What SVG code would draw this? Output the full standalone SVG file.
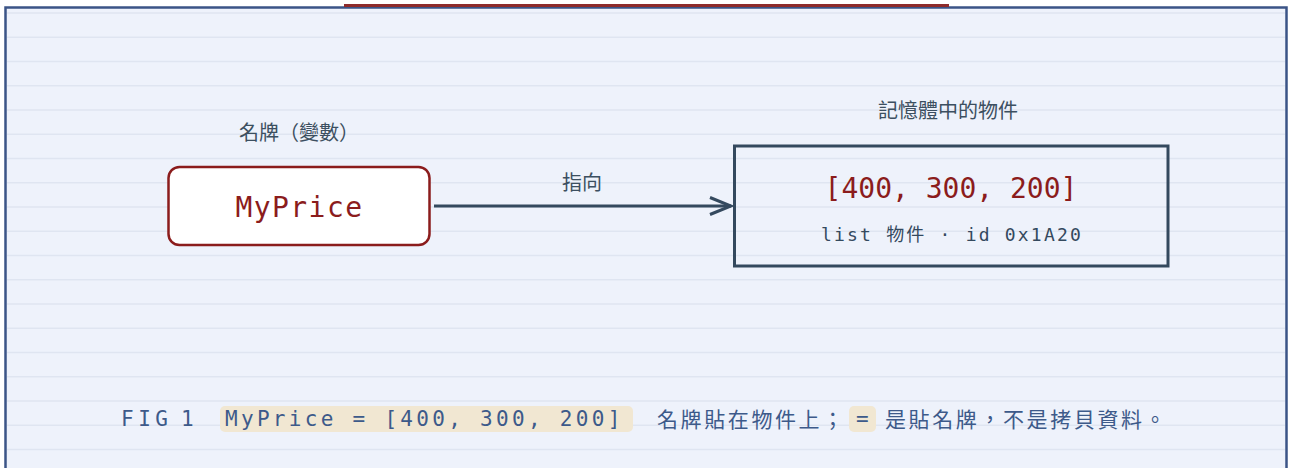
<svg xmlns="http://www.w3.org/2000/svg" width="1290" height="468" viewBox="0 0 1290 468">
<defs>
<style>
.rule{stroke:#dfe5f1;stroke-width:1.5}
.lbl{font-family:"Noto Sans CJK TC","Noto Sans",sans-serif;font-size:20px;fill:#3c4f60;text-anchor:middle}
.mono{font-family:"DejaVu Sans Mono","Liberation Mono","Noto Sans CJK TC",monospace}
.cap{font-family:"DejaVu Sans Mono","Noto Sans CJK TC",monospace;font-size:21px;fill:#3d5a8a}
.cjk{font-family:"Noto Sans CJK TC",sans-serif;font-size:21px;fill:#3d5a8a;letter-spacing:2.6px}
.hl{fill:#f1e7d2}
</style>
<marker id="chev" viewBox="0 0 24 20" refX="22" refY="10" markerWidth="24" markerHeight="20" markerUnits="userSpaceOnUse" orient="auto">
<polyline points="1,1.5 22,10 1,18.5" fill="none" stroke="#34495e" stroke-width="3"/>
</marker>
</defs>
<rect x="0" y="0" width="1290" height="468" fill="#ffffff"/>
<g id="panel">
<rect x="5.5" y="7.5" width="1281" height="470" fill="#eef2fb" stroke="#3b5487" stroke-width="2.5"/>
<g>
<line class="rule" x1="7" x2="1285" y1="13" y2="13"/>
<line class="rule" x1="7" x2="1285" y1="37.25" y2="37.25"/>
<line class="rule" x1="7" x2="1285" y1="61.5" y2="61.5"/>
<line class="rule" x1="7" x2="1285" y1="85.75" y2="85.75"/>
<line class="rule" x1="7" x2="1285" y1="110" y2="110"/>
<line class="rule" x1="7" x2="1285" y1="134.25" y2="134.25"/>
<line class="rule" x1="7" x2="1285" y1="158.5" y2="158.5"/>
<line class="rule" x1="7" x2="1285" y1="182.75" y2="182.75"/>
<line class="rule" x1="7" x2="1285" y1="207" y2="207"/>
<line class="rule" x1="7" x2="1285" y1="231.25" y2="231.25"/>
<line class="rule" x1="7" x2="1285" y1="255.5" y2="255.5"/>
<line class="rule" x1="7" x2="1285" y1="279.75" y2="279.75"/>
<line class="rule" x1="7" x2="1285" y1="304" y2="304"/>
<line class="rule" x1="7" x2="1285" y1="328.25" y2="328.25"/>
<line class="rule" x1="7" x2="1285" y1="352.5" y2="352.5"/>
<line class="rule" x1="7" x2="1285" y1="376.75" y2="376.75"/>
<line class="rule" x1="7" x2="1285" y1="401" y2="401"/>
<line class="rule" x1="7" x2="1285" y1="425.25" y2="425.25"/>
<line class="rule" x1="7" x2="1285" y1="449.5" y2="449.5"/>
</g>
<rect x="344" y="4" width="605" height="3" fill="#8e2b2b"/>
</g>
<g id="connectors">
<line x1="434" y1="206" x2="731" y2="206" stroke="#34495e" stroke-width="3" marker-end="url(#chev)"/>
<text class="lbl" x="582" y="190">指向</text>
</g>
<g id="node-variable">
<text class="lbl" x="299" y="140">名牌（變數）</text>
<rect x="168.5" y="167" width="261" height="78" rx="11" fill="#ffffff" stroke="#8b1c1c" stroke-width="2.5"/>
<text class="mono" x="299.5" y="217" font-size="28" fill="#8b1c1c" text-anchor="middle" letter-spacing="1.4">MyPrice</text>
</g>
<g id="node-object">
<text class="lbl" x="948" y="118">記憶體中的物件</text>
<rect x="734.5" y="146" width="433.5" height="120" fill="none" stroke="#34495e" stroke-width="3"/>
<text class="mono" x="951" y="198" font-size="28" fill="#8b1c1c" text-anchor="middle">[400, 300, 200]</text>
<text class="mono" x="952" y="241" font-size="18" fill="#34495e" text-anchor="middle" letter-spacing="2.2">list 物件 · id 0x1A20</text>
</g>
<g id="caption">
<text class="cap" y="426"><tspan x="121" letter-spacing="4.5">FIG</tspan><tspan x="181">1</tspan></text>
<rect class="hl" x="220" y="406" width="413" height="26" rx="5"/>
<text class="cap" x="225" y="426" letter-spacing="3.3">MyPrice = [400, 300, 200]</text>
<text class="cjk" x="657" y="427">名牌貼在物件上；</text>
<rect class="hl" x="849" y="406" width="27" height="26" rx="5"/>
<text class="cap" x="856" y="426">=</text>
<text class="cjk" x="885" y="427">是貼名牌，不是拷貝資料。</text>
</g>
</svg>
